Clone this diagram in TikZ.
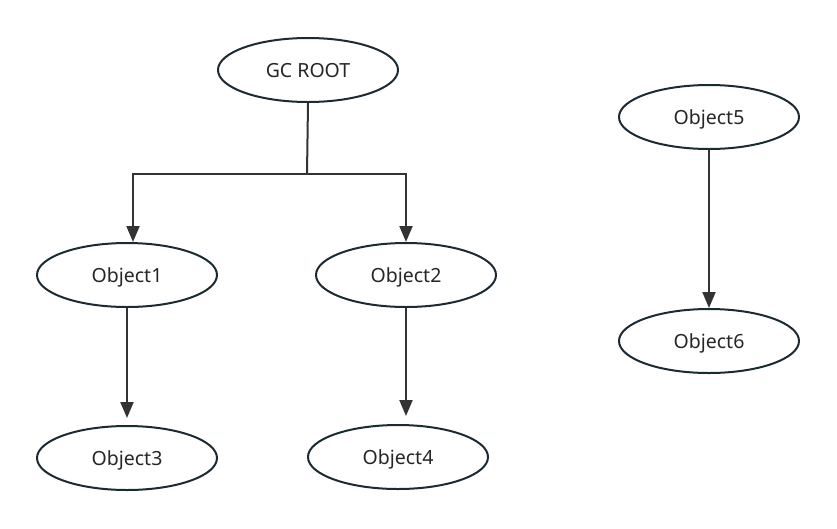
\documentclass[tikz,border=0pt]{standalone}
\usepackage{fontspec}
\setmainfont{Noto Sans}
\usetikzlibrary{arrows.meta,shapes.geometric}
\definecolor{edge}{HTML}{333333}
\definecolor{rim}{HTML}{1B2A33}
\tikzset{
  obj/.style={ellipse, draw=rim, line width=2pt, minimum width=180pt, minimum height=64pt, inner sep=0pt, text depth=0pt, font=\fontsize{19.5}{22}\selectfont, text=black!85},
  arr/.style={draw=edge, line width=2pt, -{Triangle[length=16pt,width=13pt]}},
  ln/.style={draw=edge, line width=2pt}
}
\begin{document}
\begin{tikzpicture}[x=1pt,y=-1pt]
\useasboundingbox (0,0) rectangle (837,528);
\node[obj] (gc) at (308,70) {GC ROOT};
\node[obj] (o1) at (127,275) {Object1};
\node[obj] (o2) at (406,275) {Object2};
\node[obj] (o3) at (127,458) {Object3};
\node[obj] (o4) at (398,457) {Object4};
\node[obj] (o5) at (709,117) {Object5};
\node[obj] (o6) at (709,341) {Object6};
\coordinate (j) at (307,174);
\draw[ln] (gc.south) -- (j);
\draw[arr] (j) -| ([xshift=6pt]o1.north);
\draw[arr] (j) -| (o2.north);
\draw[arr, shorten >=7pt] (o1.south) -- (o3.north);
\draw[arr, shorten >=8pt] (o2.south) -- (o2.south |- o4.north);
\draw[arr] (o5.south) -- (o6.north);
\end{tikzpicture}
\end{document}
